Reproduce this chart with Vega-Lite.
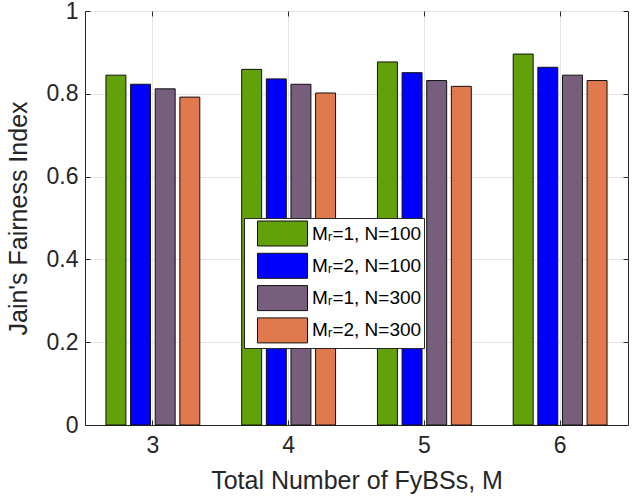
{
  "$schema": "https://vega.github.io/schema/vega-lite/v6.json",
  "autosize": {"type": "none"},
  "padding": {"left": 85, "top": 11, "right": 16, "bottom": 74},
  "width": 543,
  "height": 414,
  "background": "white",
  "config": {
    "view": {"stroke": "#262626", "strokeWidth": 1},
    "font": "Liberation Sans",
    "axis": {"labelFont": "Liberation Sans", "titleFont": "Liberation Sans", "labelColor": "#262626", "titleColor": "#262626", "domainColor": "#262626", "tickColor": "#262626", "gridColor": "#e5e5e5", "gridWidth": 1, "titleFontWeight": "normal"}
  },
  "data": {
    "values": [
      {"M": 3, "series": "Mᵣ=1, N=100", "value": 0.845},
      {"M": 3, "series": "Mᵣ=2, N=100", "value": 0.823},
      {"M": 3, "series": "Mᵣ=1, N=300", "value": 0.812},
      {"M": 3, "series": "Mᵣ=2, N=300", "value": 0.792},
      {"M": 4, "series": "Mᵣ=1, N=100", "value": 0.859},
      {"M": 4, "series": "Mᵣ=2, N=100", "value": 0.836},
      {"M": 4, "series": "Mᵣ=1, N=300", "value": 0.823},
      {"M": 4, "series": "Mᵣ=2, N=300", "value": 0.802},
      {"M": 5, "series": "Mᵣ=1, N=100", "value": 0.877},
      {"M": 5, "series": "Mᵣ=2, N=100", "value": 0.851},
      {"M": 5, "series": "Mᵣ=1, N=300", "value": 0.832},
      {"M": 5, "series": "Mᵣ=2, N=300", "value": 0.818},
      {"M": 6, "series": "Mᵣ=1, N=100", "value": 0.896},
      {"M": 6, "series": "Mᵣ=2, N=100", "value": 0.864},
      {"M": 6, "series": "Mᵣ=1, N=300", "value": 0.845},
      {"M": 6, "series": "Mᵣ=2, N=300", "value": 0.832}
    ]
  },
  "layer": [
    {
      "mark": {"type": "bar", "stroke": "#111111", "strokeWidth": 1},
      "encoding": {
        "x": {
          "field": "M", "type": "ordinal",
          "scale": {"type": "band", "paddingInner": 0, "paddingOuter": 0},
          "axis": {"title": "Total Number of FyBSs, M", "titleFontSize": 25, "labelFontSize": 23, "labelAngle": 0, "labelPadding": 14, "titlePadding": 11, "tickSize": -5, "bandPosition": 0.5, "grid": true}
        },
        "xOffset": {
          "field": "series", "type": "nominal",
          "scale": {"domain": ["Mᵣ=1, N=100", "Mᵣ=2, N=100", "Mᵣ=1, N=300", "Mᵣ=2, N=300"], "paddingInner": 0.19, "paddingOuter": 0.85}
        },
        "y": {
          "field": "value", "type": "quantitative",
          "scale": {"domain": [0, 1], "nice": false},
          "axis": {"title": "Jain's Fairness Index", "titleFontSize": 25, "labelFontSize": 23, "values": [0, 0.2, 0.4, 0.6, 0.8, 1], "format": "~g", "labelPadding": 12, "titlePadding": 15, "tickSize": -5, "grid": true}
        },
        "color": {
          "field": "series", "type": "nominal",
          "scale": {"domain": ["Mᵣ=1, N=100", "Mᵣ=2, N=100", "Mᵣ=1, N=300", "Mᵣ=2, N=300"], "range": ["#63a10a", "#0000ff", "#765e7c", "#e07a4e"]},
          "legend": {
            "title": null, "orient": "none", "legendX": 159, "legendY": 207,
            "symbolType": "M-0.16,-1H3.84V1H-0.16Z", "symbolSize": 625, "symbolStrokeColor": "#111111", "symbolStrokeWidth": 1, "symbolOpacity": 1,
            "labelFont": "Liberation Sans", "labelFontSize": 19, "labelColor": "#000000", "labelOffset": 39.5,
            "rowPadding": 2.3, "padding": 2.5, "offset": 0, "fillColor": "white", "strokeColor": "#262626", "cornerRadius": 0
          }
        }
      }
    },
    {
      "mark": {"type": "bar", "opacity": 0},
      "encoding": {
        "x": {"field": "M", "type": "ordinal", "axis": {"orient": "top", "labels": false, "title": null, "domain": false, "grid": false, "tickSize": -5, "bandPosition": 0.5}},
        "y": {"field": "value", "type": "quantitative", "axis": {"orient": "right", "labels": false, "title": null, "domain": false, "grid": false, "tickSize": -5, "values": [0, 0.2, 0.4, 0.6, 0.8, 1]}}
      }
    }
  ],
  "resolve": {"axis": {"x": "independent", "y": "independent"}}
}
